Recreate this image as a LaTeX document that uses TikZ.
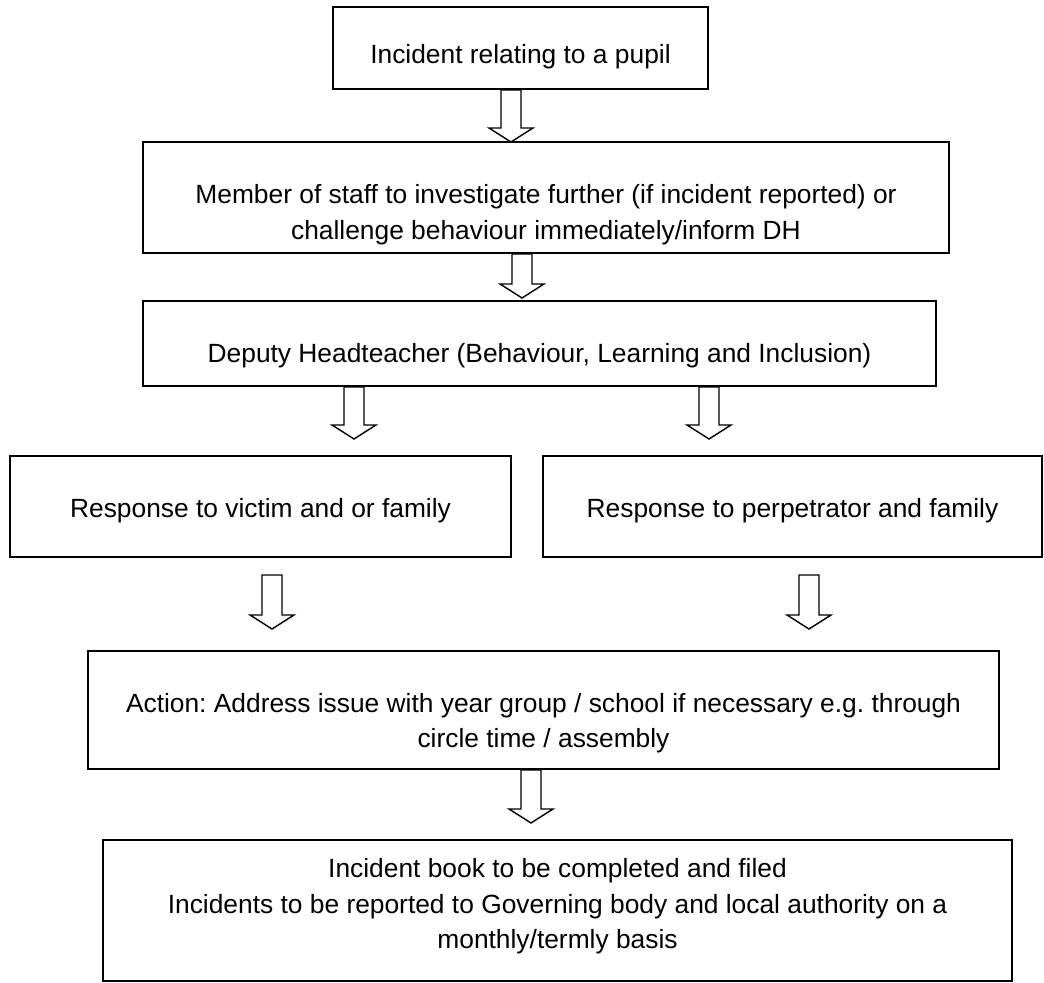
\documentclass[tikz,border=0pt]{standalone}
\usepackage{fontspec}
\setmainfont{Liberation Sans}
\frenchspacing
\usetikzlibrary{calc, positioning}
\tikzset{
every box/.style={draw, line width=1.1pt, inner sep=0pt},
txt/.style={inner sep=0pt, align=center, font=\fontsize{15}{20.2}\selectfont},
fat/.style={draw, line width=0.8pt, line join=miter},
}
% hollow block arrow from #1 down to tip #2
\newcommand{\fatarrow}[2]{%
  \draw[fat] ($(#1)+(-10,0)$) -- ($(#2)+(-10,-14)$) -- ($(#2)+(-22,-14)$)
    -- (#2) -- ($(#2)+(22,-14)$) -- ($(#2)+(10,-14)$) -- ($(#1)+(10,0)$) -- cycle;}

\begin{document}
\begin{tikzpicture}[x=0.02cm, y=-0.02cm]
    \useasboundingbox (0,0) rectangle (1044,983);
    \node[every box, minimum width=375*0.02cm, minimum height=82*0.02cm] (inc) at (520.5,48) {};
    \node[every box, minimum width=806*0.02cm, minimum height=111*0.02cm] (staff) at (546,197.5) {};
    \node[every box, minimum width=793*0.02cm, minimum height=85*0.02cm] (dh) at (539.5,343.5) {};
    \node[every box, minimum width=501*0.02cm, minimum height=101*0.02cm] (vic) at (260.5,506.5) {};
    \node[every box, minimum width=499*0.02cm, minimum height=101*0.02cm] (perp) at (792.5,506.5) {};
    \node[every box, minimum width=911*0.02cm, minimum height=118*0.02cm] (act) at (543.5,710) {};
    \node[every box, minimum width=909*0.02cm, minimum height=141*0.02cm] (book) at (557.5,910.5) {};

    % texts, set a little off the box centres
    \node[txt] (inc-t) at ($(inc)+(0,9)$) {Incident relating to a pupil};
    \node[txt] (staff-t) at ($(staff)+(0,17)$)
        {Member of staff to investigate further (if incident reported) or\\challenge behaviour immediately/inform DH};
    \node[txt] (dh-t) at ($(dh)+(0,12)$) {Deputy Headteacher (Behaviour, Learning and Inclusion)};
    \node[txt] (vic-t) at ($(vic)+(0,4)$) {Response to victim and or family};
    \node[txt] (perp-t) at ($(perp)+(0,4)$) {Response to perpetrator and family};
    \node[txt] (act-t) at ($(act)+(0,13)$)
        {Action: Address issue with year group / school if necessary e.g. through\\circle time / assembly};
    \node[txt] (book-t) at ($(book)+(0,-4)$)
        {Incident book to be completed and filed\\Incidents to be reported to Governing body and local authority on a\\monthly/termly basis};

    % arrow tips and tails
    \coordinate (t1) at (511,142);
    \coordinate (t2) at (522,298);
    \coordinate (t3a) at (354,439);
    \coordinate (t3b) at (709,439);
    \coordinate (t4a) at (272,629);
    \coordinate (t4b) at (809,629);
    \coordinate (t5) at (531,823);
    \coordinate (s1) at (t1 |- inc.south);
    \coordinate (s2) at (t2 |- staff.south);
    \coordinate (s3a) at (t3a |- dh.south);
    \coordinate (s3b) at (t3b |- dh.south);
    \coordinate (s4a) at ($(t4a |- vic.south)+(0,17)$);
    \coordinate (s4b) at ($(t4b |- perp.south)+(0,17)$);
    \coordinate (s5) at (t5 |- act.south);

    \fatarrow{s1}{t1}
    \fatarrow{s2}{t2}
    \fatarrow{s3a}{t3a}
    \fatarrow{s3b}{t3b}
    \fatarrow{s4a}{t4a}
    \fatarrow{s4b}{t4b}
    \fatarrow{s5}{t5}
\end{tikzpicture}
\end{document}
